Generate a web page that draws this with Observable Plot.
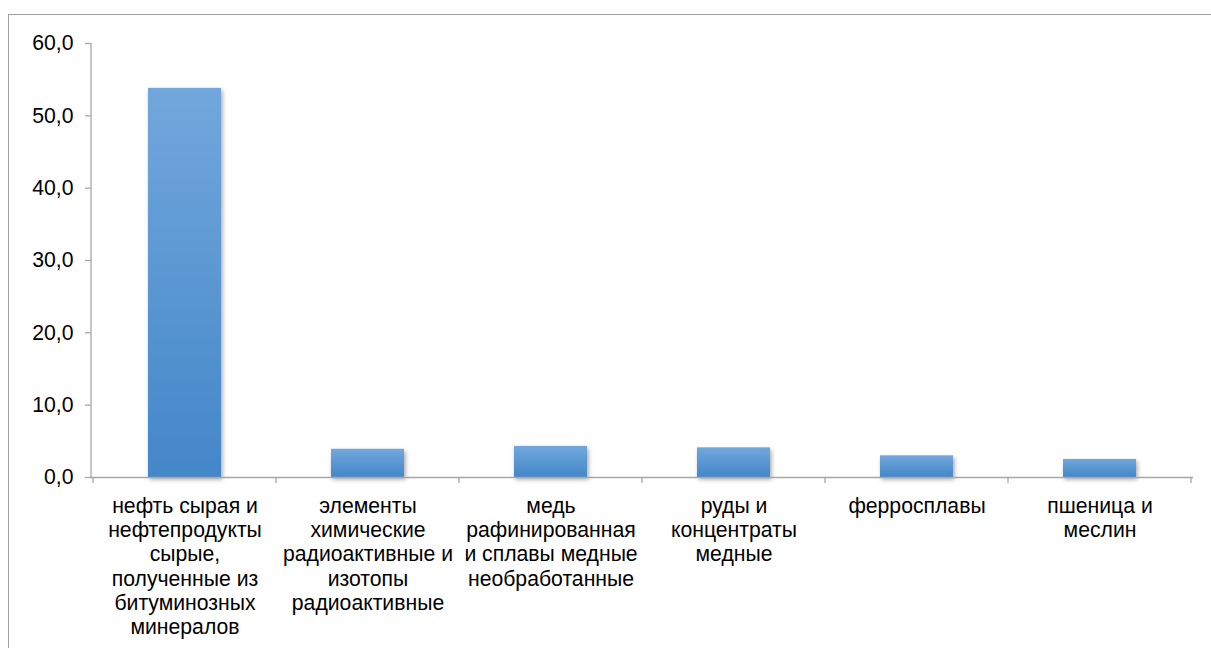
<!DOCTYPE html>
<html>
<head>
<meta charset="utf-8">
<script src="https://cdn.jsdelivr.net/npm/d3@7"></script>
<script src="https://cdn.jsdelivr.net/npm/@observablehq/plot@0.6"></script>
<style>
  html, body { margin: 0; padding: 0; background: #fff; overflow: hidden; }
  #frame { position: absolute; left: 8px; top: 14px; width: 1300px; height: 800px; border: 1.5px solid #a0a0a0; box-sizing: border-box; }
  #chart { position: absolute; left: 0; top: 0; }
  svg { font-family: "Liberation Sans", Arial, sans-serif; }
</style>
</head>
<body>
<div id="frame"></div>
<div id="chart"></div>
<script>
const categories = [
  "нефть сырая и нефтепродукты сырые, полученные из битуминозных минералов",
  "элементы химические радиоактивные и изотопы радиоактивные",
  "медь рафинированная и сплавы медные необработанные",
  "руды и концентраты медные",
  "ферросплавы",
  "пшеница и меслин"
];
const labelLines = [
  "нефть сырая и\nнефтепродукты\nсырые,\nполученные из\nбитуминозных\nминералов",
  "элементы\nхимические\nрадиоактивные и\nизотопы\nрадиоактивные",
  "медь\nрафинированная\nи сплавы медные\nнеобработанные",
  "руды и\nконцентраты\nмедные",
  "ферросплавы",
  "пшеница и\nмеслин"
];
const values = [53.8, 3.9, 4.3, 4.1, 3.0, 2.5];
const yTicks = [0, 10, 20, 30, 40, 50, 60];

const data = categories.map((c, i) => ({cat: c, label: labelLines[i], value: values[i]}));
const fmt = d => d.toFixed(1).replace(".", ",");
const AXIS = "#a6a6a6";
const FS = 21.2;

function axisLines(index, scales, values, dims) {
  const x = scales.x, y = scales.y;
  const ns = "http://www.w3.org/2000/svg";
  const g = document.createElementNS(ns, "g");
  const step = x(categories[1]) - x(categories[0]);
  const bw = x.bandwidth ? x.bandwidth() : step * 0.4;
  const off = (step - bw) / 2;
  const y0 = y(0), yTop = y(yTicks[yTicks.length - 1]);
  const left = dims.marginLeft;
  const line = (x1, y1, x2, y2) => {
    const l = document.createElementNS(ns, "line");
    l.setAttribute("x1", x1); l.setAttribute("y1", y1);
    l.setAttribute("x2", x2); l.setAttribute("y2", y2);
    l.setAttribute("stroke", AXIS); l.setAttribute("stroke-width", 1.3);
    g.appendChild(l);
  };
  line(left, yTop, left, y0);
  const bounds = categories.map(c => x(c) - off);
  bounds.push(x(categories[categories.length - 1]) + bw + off);
  bounds.forEach(b => line(b, y0, b, y0 + 6));
  return g;
}

const plot = Plot.plot({
  width: 1211,
  height: 648,
  marginLeft: 91,
  marginRight: 18,
  marginTop: 43,
  marginBottom: 171,
  style: {background: "transparent", fontFamily: "'Liberation Sans', Arial, sans-serif"},
  x: {type: "band", domain: categories, paddingInner: 0.6, paddingOuter: 0.3, axis: null},
  y: {domain: [0, 60], axis: null, label: null},
  marks: [
    Plot.barY(data, {x: "cat", y: "value", fill: "url(#barGrad)"}),
    Plot.ruleY([0], {stroke: AXIS, strokeWidth: 1.3}),
    axisLines,
    Plot.axisY({ticks: yTicks, tickFormat: fmt, tickSize: 6, tickPadding: 12, stroke: AXIS, fill: "#000", fontSize: FS, strokeWidth: 1.3, label: null}),
    Plot.text(data, {x: "cat", y: () => 0, text: "label", lineAnchor: "top", textAnchor: "middle", dy: 18, fontSize: FS, lineHeight: 1.145, fill: "#000"})
  ]
});

const defs = d3.select(plot).insert("defs", ":first-child");
const grad = defs.append("linearGradient").attr("id", "barGrad").attr("x1", 0).attr("y1", 0).attr("x2", 0).attr("y2", 1);
grad.append("stop").attr("offset", "0%").attr("stop-color", "#72a7dc");
grad.append("stop").attr("offset", "100%").attr("stop-color", "#4387c9");
const flt = defs.append("filter").attr("id", "shadow").attr("x", "-20%").attr("y", "-20%").attr("width", "150%").attr("height", "150%");
flt.append("feDropShadow").attr("dx", 1.5).attr("dy", 2.5).attr("stdDeviation", 2.2).attr("flood-color", "#000").attr("flood-opacity", 0.35);
d3.select(plot).selectAll("g[aria-label='bar'] rect").attr("filter", "url(#shadow)");

document.getElementById("chart").appendChild(plot);
</script>
</body>
</html>
